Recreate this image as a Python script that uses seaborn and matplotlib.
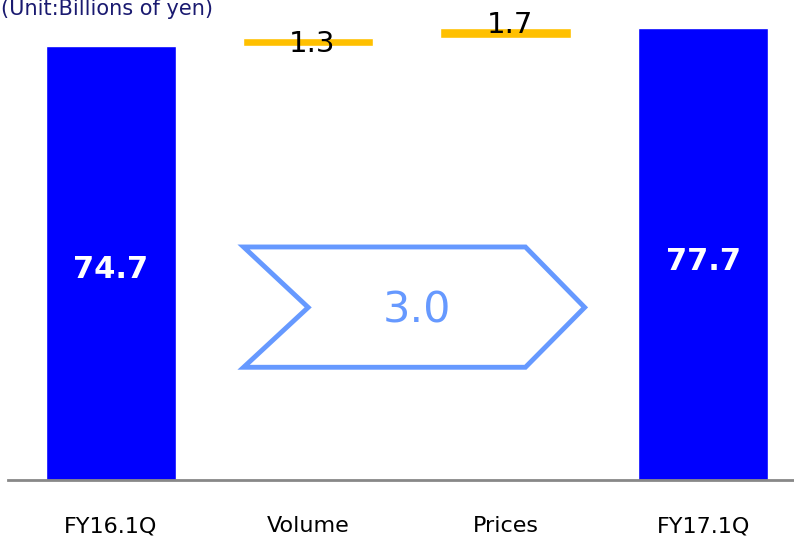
import numpy as np
import pandas as pd
import matplotlib
matplotlib.use('Agg')
import matplotlib.pyplot as plt
from matplotlib.patches import Polygon
import seaborn as sns

categories = ['FY16.1Q', 'Volume', 'Prices', 'FY17.1Q']
total_cats = ['FY16.1Q', 'FY17.1Q']
total_vals = [74.7, 77.7]
delta_cats = ['Volume', 'Prices']
delta_vals = [1.3, 1.7]
change_label = '3.0'
unit_text = '(Unit:Billions of yen)'

sns.set_style('white')
plt.rcParams['font.family'] = ['DejaVu Sans']

fig = plt.figure(figsize=(7.94, 5.39), dpi=100)
ax = fig.add_axes([8 / 794, 59 / 539, 786 / 794, 480 / 539])

totals = pd.DataFrame({'cat': total_cats, 'val': total_vals})
sns.barplot(data=totals, x='cat', y='val', order=categories, color='#0000ff',
            saturation=1, width=0.66, ax=ax)

# waterfall steps start where the previous bar ended
bottoms = list(np.cumsum([total_vals[0]] + delta_vals[:-1]))
deltas = pd.DataFrame({'cat': delta_cats, 'val': delta_vals})
sns.barplot(data=deltas, x='cat', y='val', order=categories, color='#ffc000',
            saturation=1, width=0.66, bottom=bottoms, ax=ax)

# labels
for c, v in zip(total_cats, total_vals):
    i = categories.index(c)
    ax.text(i, v / 2 - 1.2, f'{v:.1f}', color='white', fontsize=22,
            fontweight='bold', ha='center', va='center')
label_shift = [-1.0, 0.6]  # the labels sit a bit off the steps in the original
for c, v, b, d in zip(delta_cats, delta_vals, bottoms, label_shift):
    i = categories.index(c)
    ax.text(i + 0.02, b + v + d, f'{v:.1f}', color='black', fontsize=21,
            ha='center', va='center')

# chevron arrow with the total change
chev = [(0.673, 40.1), (2.10, 40.1), (2.40, 29.7), (2.10, 19.4),
        (0.673, 19.4), (1.0, 29.7)]
ax.add_patch(Polygon(chev, closed=True, fill=False, edgecolor='#6699ff',
                     linewidth=3.5, joinstyle='miter'))
ax.text(1.55, 29.2, change_label, color='#6699ff', fontsize=31,
        ha='center', va='center')

ax.set_xlim(-0.52, 3.46)
ax.set_ylim(0, 82.6)
ax.set_xlabel('')
ax.set_ylabel('')
ax.set_yticks([])
ax.tick_params(axis='x', length=0, pad=26, labelsize=16, labelcolor='black')
for s in ['top', 'left', 'right']:
    ax.spines[s].set_visible(False)
ax.spines['bottom'].set_color('#888888')
ax.spines['bottom'].set_linewidth(2)

fig.text(1 / 794, (539 - 15) / 539, unit_text, color='#1a1a70',
         fontsize=15, ha='left', va='baseline')

plt.savefig('out.png', dpi=100)
